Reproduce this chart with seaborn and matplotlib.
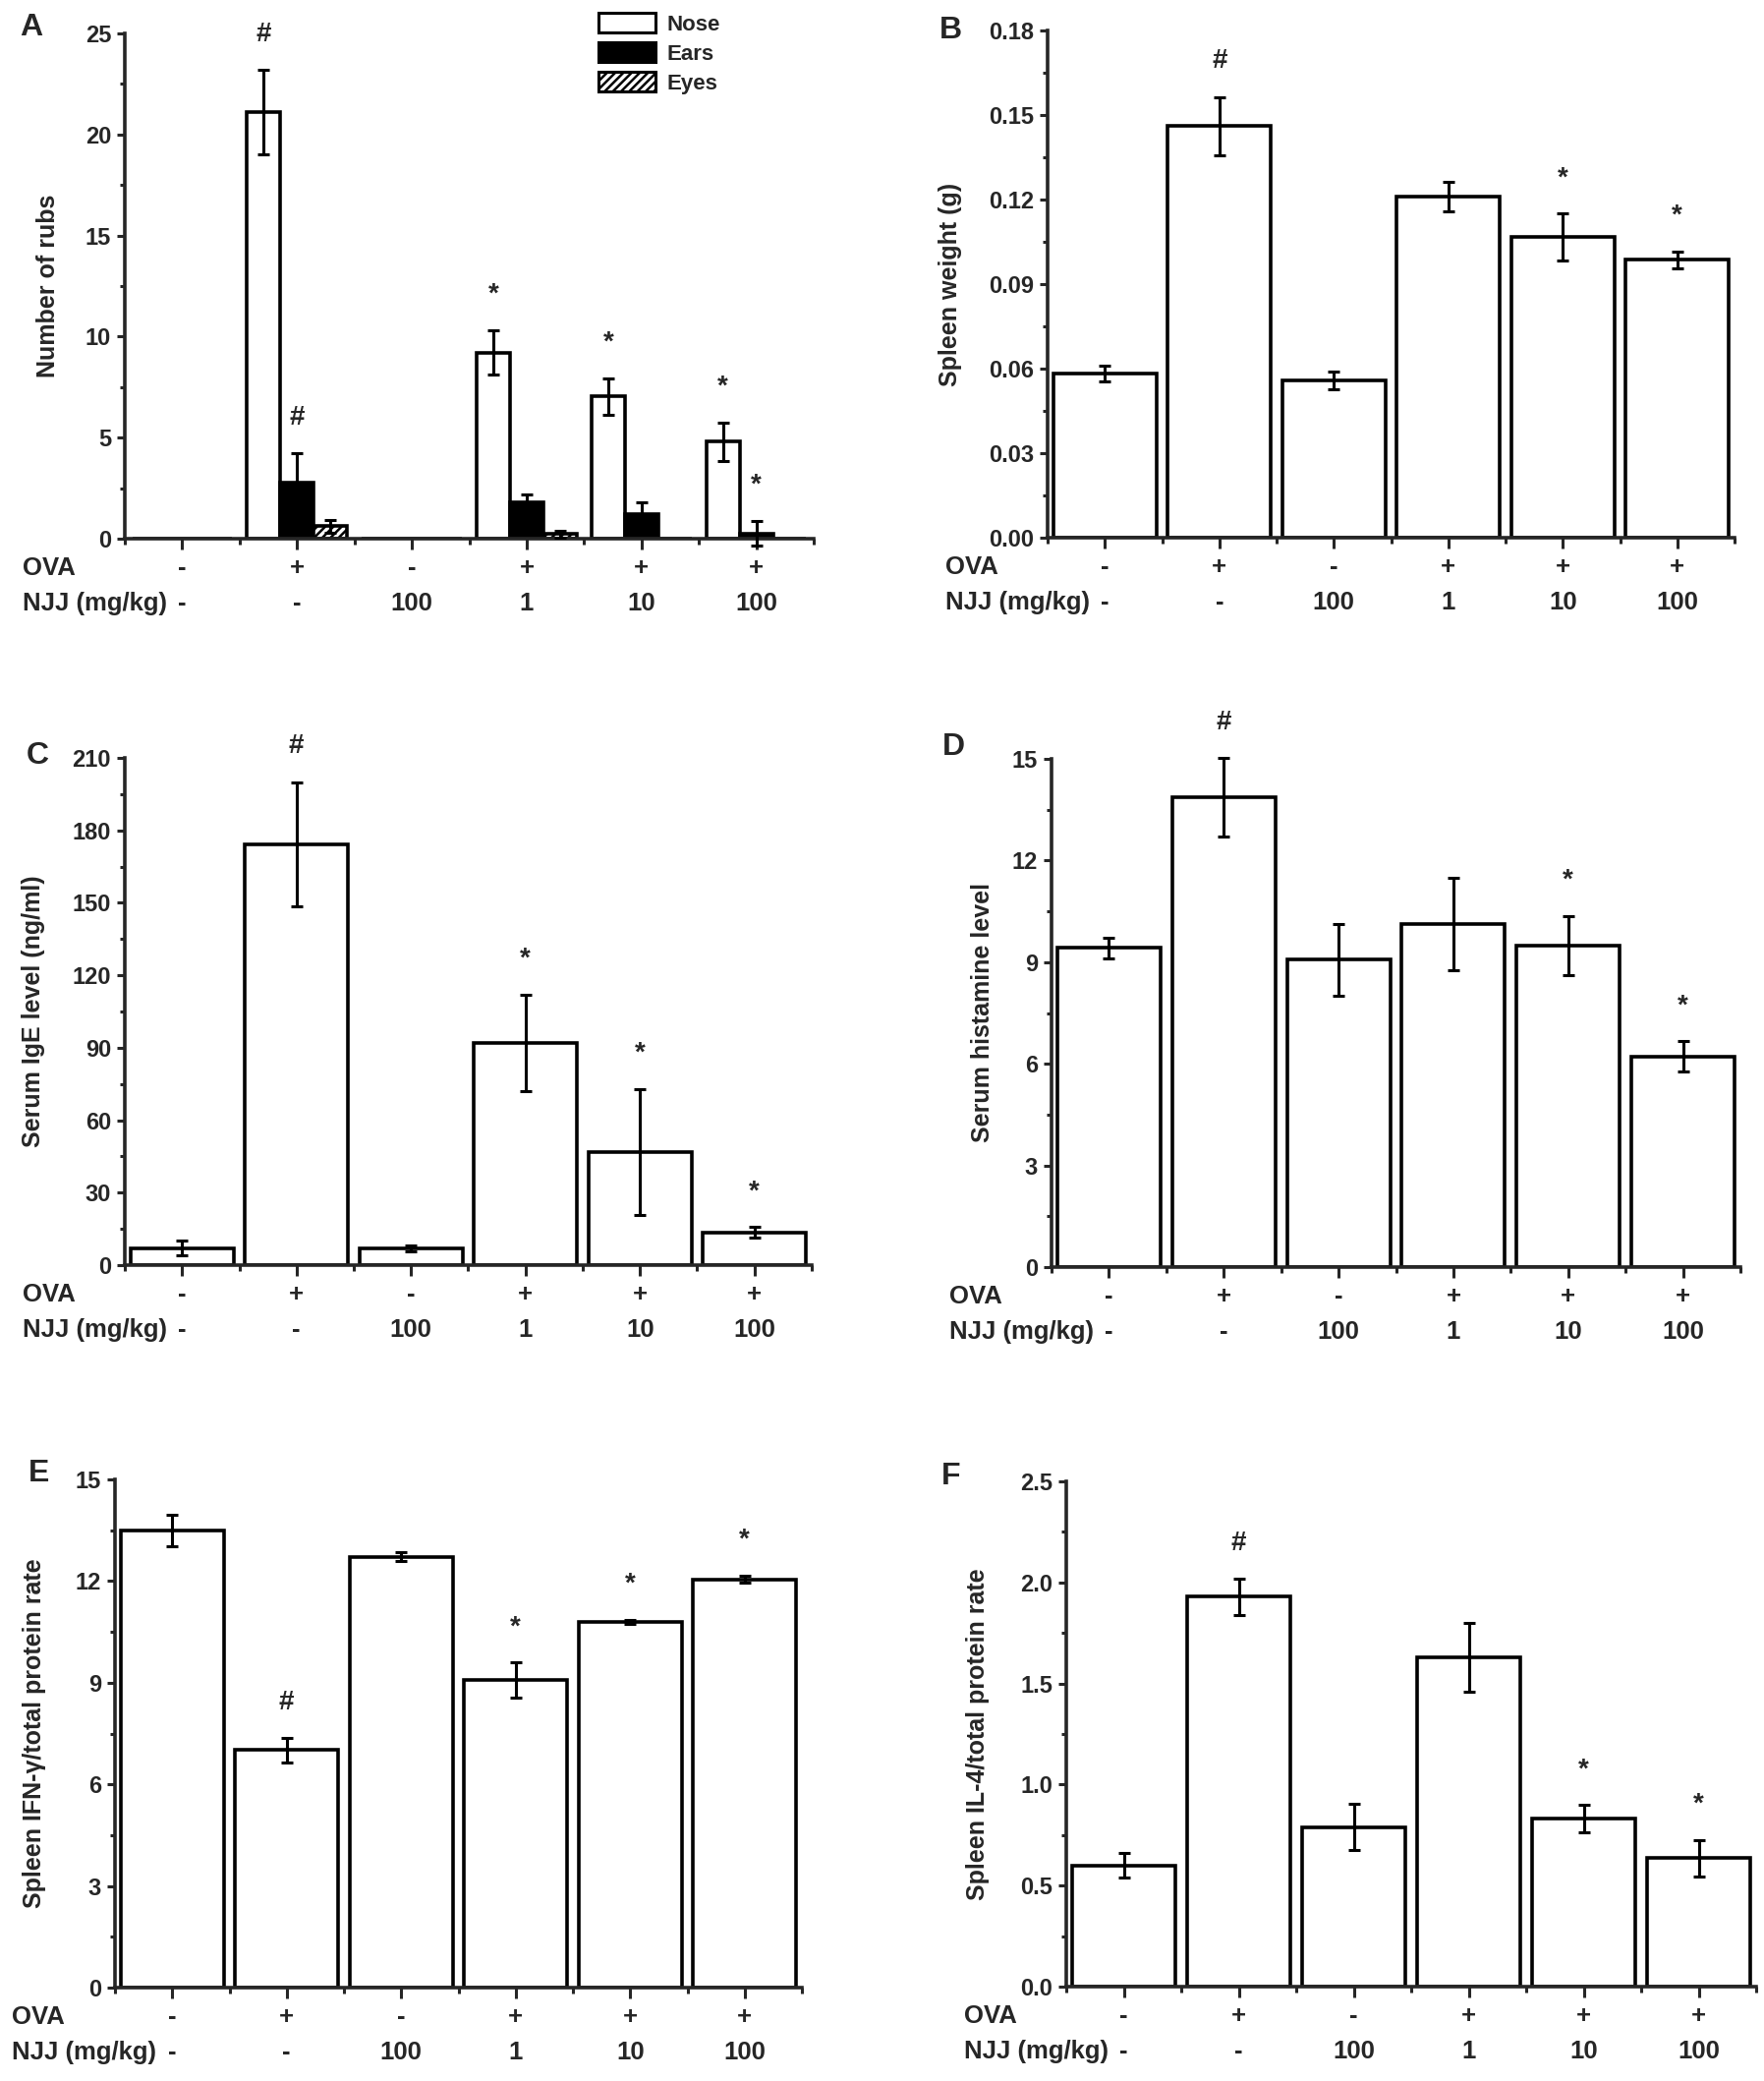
# ==========================================
# Six-panel bar chart: OVA / NJJ treatment groups
# ==========================================

import numpy as np
import pandas as pd
import matplotlib
matplotlib.use("Agg")
import matplotlib.pyplot as plt
import seaborn as sns
from matplotlib.patches import Patch
from matplotlib.ticker import MultipleLocator, FixedLocator, AutoMinorLocator, FormatStrFormatter

# ==========================================
# 1. Data
# ==========================================

ova = ["-", "+", "-", "+", "+", "+"]
njj = ["-", "-", "100", "1", "10", "100"]
groups = [f"{o}\n{n}" for o, n in zip(ova, njj)]

# Panel A: number of rubs per site
sites = ["Nose", "Ears", "Eyes"]
rubs_nose = [0, 21.1, 0, 9.2, 7.05, 4.8]
rubs_nose_err = [0, 2.08, 0, 1.1, 0.9, 0.95]
rubs_ears = [0, 2.77, 0, 1.81, 1.24, 0.26]
rubs_ears_err = [0, 1.44, 0, 0.37, 0.57, 0.61]
rubs_eyes = [0, 0.61, 0, 0.22, 0, 0]
rubs_eyes_err = [0, 0.33, 0, 0.15, 0, 0]
rubs_nose_marks = ["", "#", "", "*", "*", "*"]
rubs_ears_marks = ["", "#", "", "", "", "*"]
rubs_eyes_marks = ["", "", "", "", "", ""]

# Panel B: spleen weight (g)
spleen = [0.0583, 0.1461, 0.0557, 0.1211, 0.1066, 0.0986]
spleen_err = [0.0028, 0.0103, 0.0031, 0.0052, 0.0084, 0.0029]
spleen_marks = ["", "#", "", "", "*", "*"]

# Panel C: serum IgE (ng/ml)
ige = [7.0, 174.3, 6.9, 92.0, 46.8, 13.5]
ige_err = [3.0, 25.7, 1.2, 20.0, 26.2, 2.2]
ige_marks = ["", "#", "", "*", "*", "*"]

# Panel D: serum histamine
hist = [9.42, 13.87, 9.07, 10.12, 9.48, 6.22]
hist_err = [0.30, 1.15, 1.05, 1.36, 0.87, 0.44]
hist_marks = ["", "#", "", "", "*", "*"]

# Panel E: spleen IFN-gamma / total protein
ifn = [13.5, 7.01, 12.72, 9.07, 10.79, 12.05]
ifn_err = [0.47, 0.36, 0.12, 0.52, 0.06, 0.11]
ifn_marks = ["", "#", "", "*", "*", "*"]

# Panel F: spleen IL-4 / total protein
il4 = [0.60, 1.93, 0.79, 1.63, 0.83, 0.635]
il4_err = [0.06, 0.09, 0.115, 0.17, 0.068, 0.09]
il4_marks = ["", "#", "", "", "*", "*"]

# ==========================================
# 2. Style
# ==========================================

sns.set_theme(style="ticks")
plt.rcParams["font.family"] = ["Liberation Sans", "DejaVu Sans"]
plt.rcParams["font.weight"] = "bold"
plt.rcParams["axes.labelweight"] = "bold"
plt.rcParams["hatch.linewidth"] = 1.8

W, H = 1795, 2117
LW = 2.6
TICK_FS = 17
ROW_FS = 18.5
LABEL_FS = 18
LINESP = 1.65

fig = plt.figure(figsize=(W / 100, H / 100), dpi=100)


def make_axes(left, top, right, bottom):
    # pixel box -> figure fraction
    return fig.add_axes([left / W, 1 - bottom / H, (right - left) / W, (bottom - top) / H])


def style_axis(ax, ymax, ystep, fmt, ylabel, label_px, row_px, width_px):
    ax.set_xlim(-0.5, len(groups) - 0.5)
    ax.set_ylim(0, ymax)
    ax.yaxis.set_major_locator(MultipleLocator(ystep))
    ax.yaxis.set_minor_locator(AutoMinorLocator(2))
    ax.yaxis.set_major_formatter(FormatStrFormatter(fmt))
    ax.set_xticks(range(len(groups)))
    ax.set_xticklabels(groups, fontsize=ROW_FS, linespacing=LINESP)
    ax.xaxis.set_minor_locator(FixedLocator(np.arange(len(groups) + 1) - 0.5))
    ax.tick_params(axis="x", which="major", length=8, width=2.2, pad=5, direction="out")
    ax.tick_params(axis="x", which="minor", length=4, width=2.2, direction="out")
    ax.tick_params(axis="y", which="major", length=6, width=2.2, pad=4,
                   direction="out", labelsize=TICK_FS)
    ax.tick_params(axis="y", which="minor", length=3.5, width=2.2, direction="out")
    for side in ["top", "right"]:
        ax.spines[side].set_visible(False)
    for side in ["left", "bottom"]:
        ax.spines[side].set_linewidth(LW)
    ax.set_xlabel("")
    ax.set_ylabel(ylabel, fontsize=LABEL_FS)
    ax.yaxis.set_label_coords(-(label_px - 12) / width_px, 0.5)
    # row titles to the left of the two tick-label rows
    ax.annotate("OVA\nNJJ (mg/kg)", xy=(row_px / W, 0),
                xycoords=("figure fraction", "axes fraction"),
                xytext=(0, -(8 + 5)), textcoords="offset points",
                ha="left", va="top", fontsize=ROW_FS, linespacing=LINESP)


def add_errors(ax, bars, errs, marks):
    for bar, e, m in zip(bars, errs, marks):
        x = bar.get_x() + bar.get_width() / 2
        h = bar.get_height()
        if e > 0:
            ax.errorbar(x, h, yerr=e, fmt="none", ecolor="black", elinewidth=2.2,
                        capsize=4.5, capthick=2.2, zorder=4, clip_on=False)
        if m:
            ax.annotate(m, xy=(x, h + e), xytext=(0, 21), textcoords="offset points",
                        ha="center", va="baseline", fontsize=20, fontweight="bold",
                        annotation_clip=False)


def single_panel(box, values, errs, marks, ymax, ystep, fmt, ylabel, label_px, row_px):
    ax = make_axes(*box)
    df = pd.DataFrame({"group": groups, "value": values})
    sns.barplot(data=df, x="group", y="value", order=groups, color="white",
                saturation=1, edgecolor="black", linewidth=LW, width=0.9,
                errorbar=None, ax=ax)
    bars = list(ax.containers[0])
    add_errors(ax, bars, errs, marks)
    style_axis(ax, ymax, ystep, fmt, ylabel, label_px, row_px, box[2] - box[0])
    return ax


# ==========================================
# 3. Panel A (grouped bars)
# ==========================================

boxA = (127, 34, 828, 548)
axA = make_axes(*boxA)
rows = []
for site, vals in zip(sites, [rubs_nose, rubs_ears, rubs_eyes]):
    for g, v in zip(groups, vals):
        rows.append({"group": g, "site": site, "value": v})
dfA = pd.DataFrame(rows)

sns.barplot(data=dfA, x="group", y="value", hue="site", order=groups, hue_order=sites,
            palette={"Nose": "white", "Ears": "black", "Eyes": "white"}, saturation=1,
            edgecolor="black", linewidth=LW, width=0.87, errorbar=None, legend=False, ax=axA)

bar_sets = list(axA.containers)
for bar in bar_sets[2]:
    bar.set_hatch("////")

for bars, errs, marks in zip(bar_sets,
                             [rubs_nose_err, rubs_ears_err, rubs_eyes_err],
                             [rubs_nose_marks, rubs_ears_marks, rubs_eyes_marks]):
    add_errors(axA, list(bars), errs, marks)

style_axis(axA, 25, 5, "%d", "Number of rubs", 78, 23, boxA[2] - boxA[0])

handles = [Patch(facecolor="white", edgecolor="black", linewidth=2.2),
           Patch(facecolor="black", edgecolor="black", linewidth=2.2),
           Patch(facecolor="white", edgecolor="black", linewidth=2.2, hatch="////")]
axA.legend(handles, sites, loc="upper left", bbox_to_anchor=(0.688, 1.04),
           frameon=False, prop={"weight": "bold", "size": 16}, handlelength=2.6,
           handleheight=0.95, handletextpad=0.5, labelspacing=0.35,
           borderpad=0, borderaxespad=0)

# ==========================================
# 4. Panels B-F
# ==========================================

single_panel((1066, 31, 1765, 547), spleen, spleen_err, spleen_marks,
             0.18, 0.03, "%.2f", "Spleen weight (g)", 99, 962)
single_panel((127, 771, 826, 1287), ige, ige_err, ige_marks,
             210, 30, "%d", "Serum IgE level (ng/ml)", 93, 23)
single_panel((1070, 772, 1771, 1289), hist, hist_err, hist_marks,
             15, 3, "%d", "Serum histamine level", 70, 966)
single_panel((117, 1505, 816, 2022), ifn, ifn_err, ifn_marks,
             15, 3, "%d", "Spleen IFN-\u03b3/total protein rate", 82, 12)
single_panel((1085, 1507, 1787, 2021), il4, il4_err, il4_marks,
             2.5, 0.5, "%.1f", "Spleen IL-4/total protein rate", 90, 981)

# panel letters
for letter, (px, py) in zip("ABCDEF", [(32, 28), (967, 31), (38, 769),
                                        (970, 760), (40, 1499), (968, 1502)]):
    fig.text(px / W, 1 - py / H, letter, ha="center", va="center",
             fontsize=23, fontweight="bold")

fig.savefig("out.png", dpi=100)
